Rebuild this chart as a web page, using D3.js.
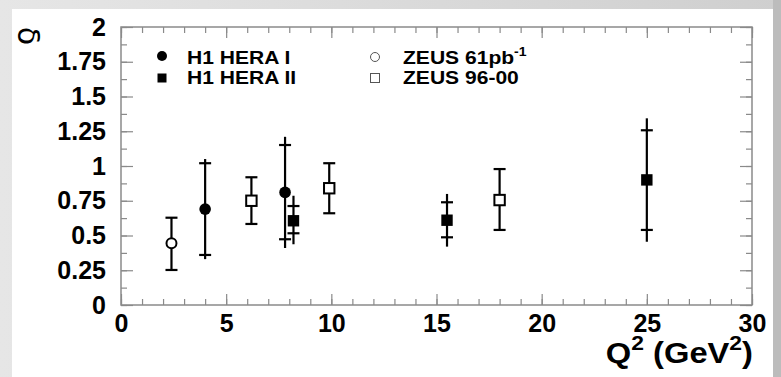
<!DOCTYPE html>
<html>
<head>
<meta charset="utf-8">
<script src="https://cdn.jsdelivr.net/npm/d3@7"></script>
<style>
  body { margin: 0; background: #dcdcdc; }
  svg { display: block; }
  text { font-family: "Liberation Sans", Arial, sans-serif; font-weight: bold; fill: #000; }
</style>
</head>
<body>
<svg width="781" height="377"></svg>
<script>
// each row: [Q2, delta, statLo, statHi, totLo, totHi]
const h1HeraI = [
  [4.0, 0.69, 0.36, 1.02, 0.33, 1.05],
  [7.8, 0.81, 0.473, 1.151, 0.41, 1.21]
];
const h1HeraII = [
  [8.2, 0.606, 0.516, 0.712, 0.437, 0.786],
  [15.5, 0.61, 0.487, 0.739, 0.42, 0.799],
  [25.0, 0.90, 0.54, 1.257, 0.455, 1.343]
];
// each row: [Q2, delta, lo, hi]
const zeus61 = [
  [2.4, 0.444, 0.252, 0.628]
];
const zeus9600 = [
  [6.2, 0.75, 0.583, 0.919],
  [9.9, 0.84, 0.66, 1.02],
  [18.0, 0.755, 0.54, 0.978]
];

const xTickValues = [0, 5, 10, 15, 20, 25, 30];
const yTickValues = [0, 0.25, 0.5, 0.75, 1, 1.25, 1.5, 1.75, 2];
const yTickLabels = ["0", "0.25", "0.5", "0.75", "1", "1.25", "1.5", "1.75", "2"];

const svg = d3.select("svg");
const w = 781;
const h = 377;

// background: grey frame + white panel
const grad = svg.append("defs").append("linearGradient")
  .attr("id", "bg").attr("x1", 0).attr("x2", 1).attr("y1", 0).attr("y2", 0);
grad.append("stop").attr("offset", "0%").attr("stop-color", "#e6e6e6");
grad.append("stop").attr("offset", "100%").attr("stop-color", "#cfcfcf");
svg.append("rect").attr("width", w).attr("height", h).attr("fill", "url(#bg)");
svg.append("rect").attr("x", 773).attr("y", 0).attr("width", 8).attr("height", h).attr("fill", "#bcbcbc");
svg.append("rect").attr("x", 12).attr("y", 9).attr("width", 761).attr("height", h - 9).attr("fill", "#fff");

const xScale = d3.scaleLinear().domain([0, 30]).range([121, 752]);
const yScale = d3.scaleLinear().domain([0, 2]).range([305, 27]);

const axisColor = "#8a8a8a";

const styleAxis = (g) => {
  g.select(".domain").remove();
  g.selectAll(".tick line").attr("stroke", axisColor).attr("stroke-width", 1.2);
  g.selectAll(".tick text")
    .style("font-family", "'Liberation Sans', Arial, sans-serif")
    .style("font-weight", "bold")
    .style("font-size", "25px")
    .attr("fill", "#000");
};

// minor ticks
svg.append("g").attr("transform", `translate(0, 305)`)
  .call(d3.axisBottom(xScale).tickValues(d3.range(0, 31, 1)).tickSize(-6).tickFormat(""))
  .call(styleAxis);
svg.append("g").attr("transform", `translate(0, 27)`)
  .call(d3.axisTop(xScale).tickValues(d3.range(0, 31, 1)).tickSize(-6).tickFormat(""))
  .call(styleAxis);
svg.append("g").attr("transform", `translate(121, 0)`)
  .call(d3.axisLeft(yScale).tickValues(d3.range(0, 2.01, 0.125)).tickSize(-6).tickFormat(""))
  .call(styleAxis);
svg.append("g").attr("transform", `translate(752, 0)`)
  .call(d3.axisRight(yScale).tickValues(d3.range(0, 2.01, 0.125)).tickSize(-6).tickFormat(""))
  .call(styleAxis);

// major ticks
svg.append("g").attr("transform", `translate(0, 305)`)
  .call(d3.axisBottom(xScale).tickValues(xTickValues).tickSize(-11).tickPadding(9).tickFormat(d3.format("d")))
  .call(styleAxis);
svg.append("g").attr("transform", `translate(0, 27)`)
  .call(d3.axisTop(xScale).tickValues(xTickValues).tickSize(-11).tickFormat(""))
  .call(styleAxis);
svg.append("g").attr("transform", `translate(121, 0)`)
  .call(d3.axisLeft(yScale).tickValues(yTickValues).tickSize(-12).tickPadding(15).tickFormat((d, i) => yTickLabels[i]))
  .call(styleAxis);
svg.append("g").attr("transform", `translate(752, 0)`)
  .call(d3.axisRight(yScale).tickValues(yTickValues).tickSize(-12).tickFormat(""))
  .call(styleAxis);

// frame
svg.append("rect")
  .attr("x", xScale(0)).attr("y", yScale(2))
  .attr("width", xScale(30) - xScale(0)).attr("height", yScale(0) - yScale(2))
  .attr("fill", "none").attr("stroke", axisColor).attr("stroke-width", 1.5);

// axis titles
svg.append("text")
  .attr("transform", "translate(18, 36) rotate(90)")
  .attr("text-anchor", "middle")
  .style("font-family", "'DejaVu Sans', sans-serif")
  .style("font-weight", "normal")
  .style("font-size", "30px")
  .text("δ");

const xTitle = svg.append("text")
  .attr("transform", "translate(753, 363) scale(1.09, 1)")
  .attr("text-anchor", "end")
  .style("font-size", "30px");
xTitle.append("tspan").text("Q");
xTitle.append("tspan").attr("dy", -13).style("font-size", "21px").text("2");
xTitle.append("tspan").attr("dy", 13).text(" (GeV");
xTitle.append("tspan").attr("dy", -13).style("font-size", "21px").text("2");
xTitle.append("tspan").attr("dy", 13).text(")");

// error bars
const barW = 12;
const plot = svg.append("g");

const drawH1 = (data) => {
  const g = plot.append("g");
  g.selectAll(".tot").data(data).enter().append("line")
    .attr("x1", d => xScale(d[0])).attr("x2", d => xScale(d[0]))
    .attr("y1", d => yScale(d[4])).attr("y2", d => yScale(d[5]))
    .attr("stroke", "#000").attr("stroke-width", 2.2);
  [2, 3].forEach(k => {
    g.selectAll(".stat" + k).data(data).enter().append("line")
      .attr("x1", d => xScale(d[0]) - barW / 2).attr("x2", d => xScale(d[0]) + barW / 2)
      .attr("y1", d => yScale(d[k])).attr("y2", d => yScale(d[k]))
      .attr("stroke", "#000").attr("stroke-width", 2.2);
  });
  return g;
};

const drawZeus = (data) => {
  const g = plot.append("g");
  g.selectAll(".err").data(data).enter().append("line")
    .attr("x1", d => xScale(d[0])).attr("x2", d => xScale(d[0]))
    .attr("y1", d => yScale(d[2])).attr("y2", d => yScale(d[3]))
    .attr("stroke", "#000").attr("stroke-width", 2.2);
  [2, 3].forEach(k => {
    g.selectAll(".cap" + k).data(data).enter().append("line")
      .attr("x1", d => xScale(d[0]) - barW / 2).attr("x2", d => xScale(d[0]) + barW / 2)
      .attr("y1", d => yScale(d[k])).attr("y2", d => yScale(d[k]))
      .attr("stroke", "#000").attr("stroke-width", 2.2);
  });
  return g;
};

drawH1(h1HeraI).selectAll("circle").data(h1HeraI).enter().append("circle")
  .attr("cx", d => xScale(d[0])).attr("cy", d => yScale(d[1])).attr("r", 5.8)
  .attr("fill", "#000");

drawH1(h1HeraII).selectAll("rect").data(h1HeraII).enter().append("rect")
  .attr("x", d => xScale(d[0]) - 5.7).attr("y", d => yScale(d[1]) - 5.7)
  .attr("width", 11.4).attr("height", 11.4).attr("fill", "#000");

drawZeus(zeus61).selectAll("circle").data(zeus61).enter().append("circle")
  .attr("cx", d => xScale(d[0])).attr("cy", d => yScale(d[1])).attr("r", 5)
  .attr("fill", "#fff").attr("stroke", "#000").attr("stroke-width", 2);

drawZeus(zeus9600).selectAll("rect").data(zeus9600).enter().append("rect")
  .attr("x", d => xScale(d[0]) - 5.2).attr("y", d => yScale(d[1]) - 5.2)
  .attr("width", 10.4).attr("height", 10.4)
  .attr("fill", "#fff").attr("stroke", "#000").attr("stroke-width", 2);

// legend
const legend = svg.append("g");
legend.append("circle").attr("cx", 162).attr("cy", 56).attr("r", 5).attr("fill", "#000");
legend.append("rect").attr("x", 157.5).attr("y", 73.5).attr("width", 9).attr("height", 9).attr("fill", "#000");
legend.append("circle").attr("cx", 375).attr("cy", 57).attr("r", 4.5)
  .attr("fill", "none").attr("stroke", "#555").attr("stroke-width", 1);
legend.append("rect").attr("x", 370.5).attr("y", 73.5).attr("width", 9).attr("height", 9)
  .attr("fill", "none").attr("stroke", "#555").attr("stroke-width", 1);

const legendText = (x, y, label, sup) => {
  const t = legend.append("text")
    .attr("transform", `translate(${x}, ${y}) scale(1.17, 1)`)
    .style("font-size", "18px");
  t.append("tspan").text(label);
  if (sup) t.append("tspan").attr("dy", -8).style("font-size", "12px").text(sup);
};
legendText(187, 64, "H1 HERA I");
legendText(187, 84, "H1 HERA II");
legendText(403, 64, "ZEUS 61pb", "-1");
legendText(403, 84, "ZEUS 96-00");
</script>
</body>
</html>
